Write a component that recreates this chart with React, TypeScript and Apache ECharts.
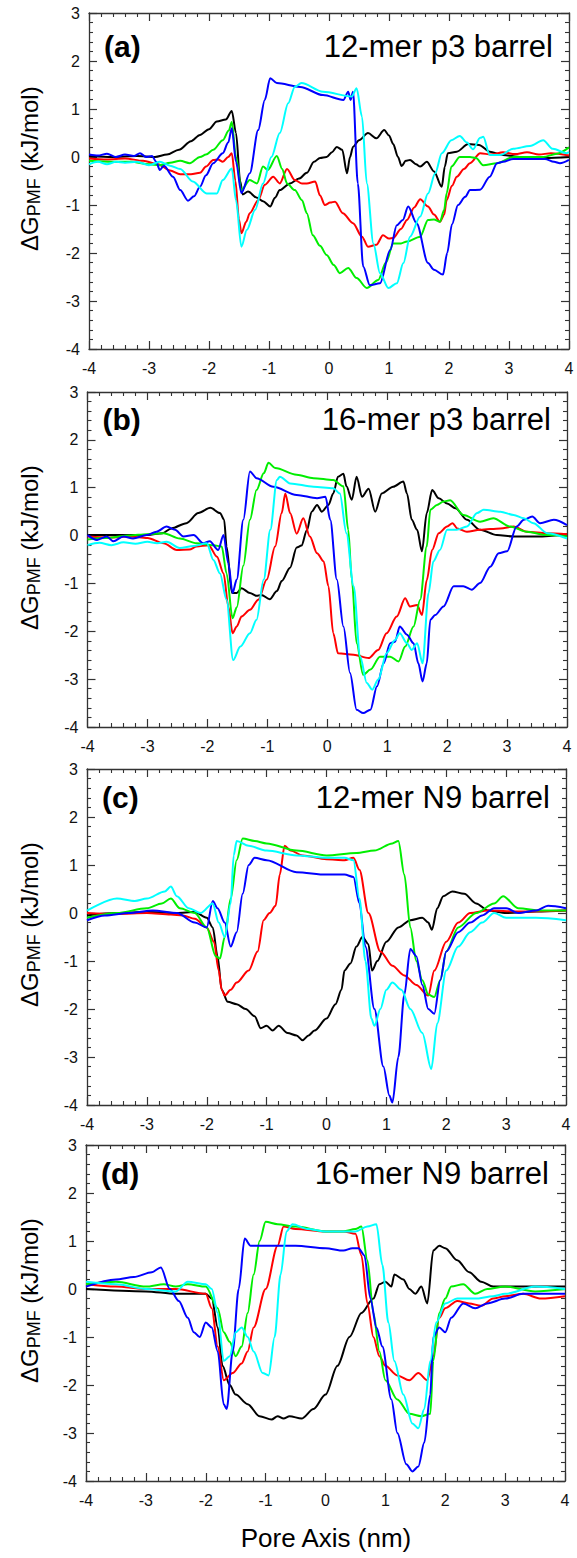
import React, { useEffect, useRef } from "react";
import * as echarts from "echarts";

type P = [number, number][];

const xTicks = [-4, -3, -2, -1, 0, 1, 2, 3, 4];
const yRange = [-4, 3];
const panelTags = ["(a)", "(b)", "(c)", "(d)"];
const panelTitles = ["12-mer p3 barrel", "16-mer p3 barrel", "12-mer N9 barrel", "16-mer N9 barrel"];
const seriesNames = ["black", "red", "green", "blue", "cyan"];
const seriesColors = ["#000000", "#ff0000", "#00ee00", "#0000ff", "#00ffff"];

// ---- panel (a): 12-mer p3 barrel
const aBlack: P = [[-4,0.02],[-3.6,0.0],[-3.2,0.02],[-2.9,0.0],[-2.7,0.05],[-2.5,0.15],[-2.3,0.33],[-2.15,0.46],[-2.0,0.58],[-1.87,0.74],[-1.72,0.78],[-1.62,0.96],[-1.55,0.5],[-1.48,-0.5],[-1.44,-0.78],[-1.35,-0.72],[-1.2,-0.85],[-1.1,-0.92],[-0.98,-1.03],[-0.9,-0.85],[-0.82,-0.69],[-0.65,-0.55],[-0.5,-0.45],[-0.37,-0.33],[-0.25,-0.1],[-0.15,-0.02],[-0.04,0.0],[0.05,0.1],[0.13,0.21],[0.22,0.15],[0.3,-0.34],[0.35,0.0],[0.4,0.21],[0.5,0.35],[0.65,0.5],[0.79,0.39],[0.92,0.56],[1.0,0.45],[1.07,0.27],[1.15,0.0],[1.21,-0.19],[1.28,-0.08],[1.35,-0.06],[1.45,-0.15],[1.52,-0.2],[1.63,-0.1],[1.75,-0.3],[1.88,-0.62],[1.93,-0.2],[1.98,0.08],[2.13,0.11],[2.32,0.27],[2.5,0.25],[2.68,0.11],[2.9,0.04],[3.2,0.0],[3.6,-0.02],[4,0.0]];
const aRed: P = [[-4,-0.03],[-3.7,-0.05],[-3.4,-0.03],[-3.1,-0.08],[-2.85,-0.15],[-2.65,-0.28],[-2.48,-0.36],[-2.3,-0.36],[-2.15,-0.33],[-2.05,-0.2],[-1.93,-0.06],[-1.85,-0.05],[-1.77,-0.1],[-1.68,0.0],[-1.62,0.08],[-1.56,-0.5],[-1.5,-1.3],[-1.46,-1.59],[-1.38,-1.35],[-1.32,-1.17],[-1.18,-0.9],[-1.07,-0.58],[-0.93,-0.41],[-0.82,-0.55],[-0.7,-0.25],[-0.57,-0.48],[-0.45,-0.55],[-0.37,-0.55],[-0.23,-0.51],[-0.15,-0.8],[-0.07,-1.0],[0.02,-0.95],[0.1,-0.93],[0.23,-1.17],[0.4,-1.38],[0.55,-1.66],[0.65,-1.87],[0.79,-1.83],[0.9,-1.63],[1.0,-1.7],[1.07,-1.69],[1.2,-1.5],[1.3,-1.31],[1.42,-1.05],[1.52,-0.88],[1.65,-1.03],[1.75,-1.2],[1.85,-1.35],[1.92,-1.2],[1.96,-0.9],[2.05,-0.6],[2.13,-0.41],[2.25,-0.25],[2.35,-0.13],[2.52,0.08],[2.7,0.05],[2.9,0.1],[3.1,0.06],[3.3,0.1],[3.5,0.05],[3.7,0.08],[4,0.03]];
const aGreen: P = [[-4,-0.08],[-3.6,-0.1],[-3.3,-0.1],[-3.0,-0.15],[-2.82,-0.17],[-2.65,-0.12],[-2.48,-0.08],[-2.32,-0.13],[-2.15,0.0],[-2.05,0.05],[-1.93,0.15],[-1.77,0.35],[-1.67,0.55],[-1.62,0.73],[-1.55,0.0],[-1.46,-0.69],[-1.32,-0.48],[-1.2,-0.55],[-1.1,-0.2],[-1.02,-0.27],[-0.87,0.02],[-0.78,-0.25],[-0.7,-0.55],[-0.57,-0.69],[-0.45,-0.9],[-0.37,-1.17],[-0.27,-1.63],[-0.15,-1.85],[-0.04,-2.04],[0.08,-2.25],[0.18,-2.42],[0.32,-2.31],[0.46,-2.52],[0.63,-2.73],[0.82,-2.56],[0.95,-2.2],[1.07,-1.8],[1.2,-1.8],[1.3,-1.76],[1.52,-1.66],[1.65,-1.31],[1.75,-1.3],[1.85,-1.35],[1.92,-1.1],[1.96,-0.76],[2.04,-0.2],[2.18,0.0],[2.35,0.0],[2.45,-0.02],[2.57,-0.17],[2.8,-0.13],[3.07,0.0],[3.3,0.0],[3.57,0.0],[3.8,0.07],[4,0.2]];
const aBlue: P = [[-4,0.05],[-3.85,0.03],[-3.7,0.07],[-3.55,0.0],[-3.4,0.05],[-3.25,0.02],[-3.15,0.08],[-3.05,0.0],[-2.95,0.02],[-2.88,-0.1],[-2.82,-0.27],[-2.75,-0.18],[-2.6,-0.41],[-2.48,-0.69],[-2.35,-0.91],[-2.25,-0.82],[-2.15,-0.62],[-2.05,-0.38],[-1.93,-0.13],[-1.77,0.08],[-1.68,0.3],[-1.62,0.6],[-1.55,-0.1],[-1.46,-0.75],[-1.32,-0.34],[-1.18,0.56],[-1.07,1.19],[-0.98,1.64],[-0.87,1.54],[-0.48,1.46],[-0.1,1.29],[0.24,1.19],[0.32,1.36],[0.36,1.19],[0.4,1.36],[0.48,-0.55],[0.57,-2.28],[0.68,-2.67],[0.85,-2.63],[1.02,-1.94],[1.13,-1.42],[1.23,-1.31],[1.32,-1.03],[1.46,-1.38],[1.65,-2.21],[1.75,-2.35],[1.9,-2.45],[1.97,-2.0],[2.05,-1.4],[2.15,-1.0],[2.27,-0.83],[2.35,-0.69],[2.52,-0.68],[2.68,-0.41],[2.8,-0.13],[2.9,-0.1],[3.07,-0.04],[3.4,-0.04],[3.6,-0.04],[3.75,-0.1],[3.85,-0.13],[4,-0.06]];
const aCyan: P = [[-4,-0.15],[-3.85,-0.1],[-3.7,-0.15],[-3.55,-0.1],[-3.4,-0.12],[-3.2,-0.1],[-3.0,-0.17],[-2.82,-0.1],[-2.65,-0.18],[-2.48,-0.25],[-2.27,-0.51],[-2.04,-0.76],[-1.87,-0.76],[-1.77,-0.48],[-1.62,-0.24],[-1.55,-0.9],[-1.46,-1.87],[-1.37,-1.52],[-1.23,-1.1],[-1.1,-0.55],[-0.96,0.0],[-0.82,0.5],[-0.68,1.12],[-0.57,1.46],[-0.46,1.54],[-0.1,1.36],[0.38,1.26],[0.46,1.43],[0.55,0.84],[0.63,-0.55],[0.74,-1.8],[0.85,-2.42],[0.99,-2.73],[1.13,-2.63],[1.24,-2.21],[1.35,-1.66],[1.52,-1.24],[1.65,-0.76],[1.77,-0.34],[1.88,0.08],[2.04,0.35],[2.18,0.44],[2.3,0.3],[2.4,0.16],[2.52,0.4],[2.57,0.42],[2.68,0.04],[2.85,0.04],[3.07,0.17],[3.35,0.23],[3.57,0.35],[3.73,0.17],[3.96,0.08],[4,0.1]];

// ---- panel (b): 16-mer p3 barrel
const bBlack: P = [[-4,0.01],[-3.5,0.01],[-3.0,0.01],[-2.75,0.05],[-2.6,0.15],[-2.35,0.26],[-2.15,0.47],[-1.95,0.58],[-1.79,0.47],[-1.72,0.33],[-1.68,-0.23],[-1.59,-1.2],[-1.51,-1.2],[-1.43,-1.1],[-1.29,-1.2],[-1.18,-1.26],[-1.1,-1.24],[-0.96,-1.33],[-0.84,-1.16],[-0.76,-0.95],[-0.62,-0.67],[-0.51,-0.25],[-0.43,-0.21],[-0.34,0.11],[-0.26,0.5],[-0.17,0.64],[-0.09,0.5],[0.02,0.64],[0.1,0.88],[0.18,1.23],[0.27,1.29],[0.32,1.03],[0.41,0.75],[0.49,1.23],[0.58,0.81],[0.69,0.98],[0.8,0.5],[0.91,0.88],[1.1,1.02],[1.27,1.13],[1.33,0.88],[1.41,0.33],[1.5,0.12],[1.58,-0.33],[1.66,0.47],[1.75,0.95],[1.86,0.78],[2.0,0.67],[2.14,0.57],[2.33,0.33],[2.55,0.12],[2.83,0.01],[3.11,-0.02],[3.5,-0.02],[4,0.03]];
const bRed: P = [[-4,-0.02],[-3.6,-0.04],[-3.3,-0.02],[-3.0,-0.05],[-2.73,-0.16],[-2.51,-0.3],[-2.3,-0.29],[-2.18,-0.23],[-1.98,-0.2],[-1.84,-0.44],[-1.73,-0.79],[-1.65,-1.48],[-1.58,-2.04],[-1.51,-1.9],[-1.43,-1.69],[-1.29,-1.55],[-1.15,-1.34],[-1.01,-0.92],[-0.87,-0.23],[-0.76,0.47],[-0.7,0.88],[-0.62,0.47],[-0.51,0.04],[-0.4,0.36],[-0.29,-0.02],[-0.17,-0.37],[-0.06,-0.54],[0.02,-1.06],[0.1,-2.04],[0.18,-2.46],[0.44,-2.49],[0.69,-2.56],[0.85,-2.39],[0.99,-2.04],[1.16,-1.69],[1.3,-1.31],[1.38,-1.48],[1.5,-1.45],[1.58,-1.66],[1.66,-0.93],[1.75,-0.3],[1.86,0.05],[2.0,0.19],[2.09,0.26],[2.17,0.15],[2.33,0.08],[2.55,0.12],[2.89,0.15],[3.11,0.19],[3.33,0.08],[3.67,0.05],[4,0.03]];
const bGreen: P = [[-4,-0.08],[-3.7,-0.05],[-3.3,0.0],[-3.01,0.03],[-2.73,0.05],[-2.46,-0.06],[-2.18,-0.16],[-1.9,-0.2],[-1.76,-0.23],[-1.68,-0.79],[-1.58,-1.73],[-1.51,-1.5],[-1.4,-0.63],[-1.29,0.33],[-1.18,0.95],[-1.06,1.3],[-0.98,1.52],[-0.87,1.41],[-0.51,1.27],[-0.23,1.2],[0.1,1.16],[0.27,1.03],[0.35,0.12],[0.41,-0.92],[0.49,-2.25],[0.6,-2.91],[0.72,-2.8],[0.88,-2.53],[1.05,-2.53],[1.19,-2.63],[1.3,-2.32],[1.44,-1.9],[1.55,-1.34],[1.66,-0.23],[1.72,0.54],[1.83,0.64],[1.94,0.71],[2.05,0.74],[2.27,0.43],[2.55,0.29],[2.77,0.36],[3.05,0.19],[3.33,0.08],[3.67,0.01],[4,-0.02]];
const bBlue: P = [[-4,0.01],[-3.84,-0.09],[-3.68,-0.02],[-3.57,-0.12],[-3.4,-0.02],[-3.24,-0.06],[-3.01,0.01],[-2.85,0.08],[-2.68,0.19],[-2.54,0.12],[-2.4,-0.02],[-2.23,0.01],[-2.07,-0.16],[-1.96,-0.12],[-1.82,-0.3],[-1.73,0.01],[-1.65,-0.58],[-1.58,-1.2],[-1.51,-0.92],[-1.4,0.33],[-1.29,1.34],[-1.18,1.2],[-0.9,1.02],[-0.51,0.85],[-0.17,0.78],[-0.03,0.81],[0.05,0.33],[0.16,-0.92],[0.27,-1.9],[0.38,-2.87],[0.49,-3.64],[0.6,-3.71],[0.72,-3.64],[0.83,-3.15],[0.94,-2.67],[1.05,-2.25],[1.13,-2.22],[1.21,-1.9],[1.33,-2.07],[1.44,-2.25],[1.52,-2.67],[1.59,-3.05],[1.66,-2.67],[1.72,-1.76],[1.8,-1.66],[1.94,-1.48],[2.11,-1.06],[2.27,-1.06],[2.41,-1.13],[2.55,-0.99],[2.72,-0.65],[2.86,-0.37],[3.0,-0.33],[3.16,0.19],[3.28,0.33],[3.42,0.4],[3.55,0.26],[3.78,0.33],[4,0.22]];
const bCyan: P = [[-4,-0.2],[-3.8,-0.15],[-3.6,-0.2],[-3.4,-0.14],[-3.2,-0.17],[-3.0,-0.13],[-2.84,-0.16],[-2.68,-0.13],[-2.46,-0.26],[-2.23,-0.22],[-2.01,-0.16],[-1.9,-0.51],[-1.79,-0.79],[-1.68,-1.34],[-1.57,-2.6],[-1.45,-2.32],[-1.29,-2.04],[-1.18,-1.76],[-1.06,-0.92],[-0.95,0.12],[-0.84,1.16],[-0.79,1.23],[-0.62,1.09],[-0.23,1.02],[0.1,0.99],[0.21,0.88],[0.32,0.05],[0.44,-1.06],[0.55,-2.53],[0.66,-3.08],[0.75,-3.22],[0.85,-3.01],[0.99,-2.46],[1.13,-2.18],[1.21,-2.04],[1.33,-2.25],[1.41,-2.39],[1.5,-2.25],[1.59,-2.67],[1.69,-1.2],[1.77,-0.54],[1.88,-0.3],[2.0,0.12],[2.16,0.12],[2.33,0.19],[2.5,0.47],[2.61,0.54],[2.89,0.5],[3.11,0.43],[3.28,0.36],[3.44,0.26],[3.67,0.05],[4,-0.06]];

// ---- panel (c): 12-mer N9 barrel
const cBlack: P = [[-4,-0.05],[-3.5,0.0],[-3.0,0.02],[-2.5,0.0],[-2.2,0.02],[-2.0,-0.1],[-1.9,-0.3],[-1.82,-0.9],[-1.75,-1.6],[-1.65,-1.85],[-1.5,-1.9],[-1.35,-2.0],[-1.2,-2.15],[-1.1,-2.4],[-1.0,-2.35],[-0.9,-2.45],[-0.8,-2.35],[-0.65,-2.5],[-0.5,-2.55],[-0.4,-2.65],[-0.3,-2.55],[-0.2,-2.45],[0,-2.2],[0.15,-1.9],[0.25,-1.6],[0.3,-1.2],[0.4,-1.05],[0.5,-0.7],[0.6,-0.5],[0.7,-0.65],[0.76,-1.2],[0.85,-1.0],[1.0,-0.6],[1.2,-0.3],[1.4,-0.15],[1.6,-0.1],[1.7,-0.2],[1.76,-0.35],[1.85,0.1],[1.95,0.35],[2.1,0.45],[2.3,0.4],[2.5,0.2],[2.7,0.05],[3.0,0.0],[3.5,0.03],[4,0.05]];
const cRed: P = [[-4,0.0],[-3.5,-0.02],[-3.0,0.0],[-2.6,-0.03],[-2.4,-0.05],[-2.2,-0.12],[-2.0,-0.3],[-1.88,-0.6],[-1.8,-1.2],[-1.75,-1.6],[-1.7,-1.72],[-1.6,-1.6],[-1.5,-1.45],[-1.3,-1.2],[-1.15,-0.8],[-1.05,-0.15],[-0.95,0.0],[-0.85,0.15],[-0.78,0.8],[-0.7,1.4],[-0.6,1.3],[-0.4,1.2],[0,1.12],[0.3,1.1],[0.45,1.15],[0.55,0.9],[0.7,0.0],[0.9,-0.8],[1.1,-1.1],[1.3,-1.3],[1.5,-1.5],[1.7,-1.72],[1.8,-1.2],[2.0,-0.6],[2.2,-0.2],[2.4,0.0],[2.7,0.05],[3.2,0.03],[4,0.05]];
const cGreen: P = [[-4,-0.1],[-3.5,0.0],[-3.0,0.1],[-2.75,0.2],[-2.6,0.3],[-2.45,0.1],[-2.2,0.0],[-2.0,-0.3],[-1.85,-0.9],[-1.78,-0.95],[-1.7,-0.5],[-1.6,0.3],[-1.5,1.1],[-1.4,1.55],[-1.2,1.5],[-1.0,1.45],[-0.5,1.3],[0,1.2],[0.5,1.25],[0.8,1.3],[1.1,1.45],[1.2,1.5],[1.3,0.8],[1.4,-0.3],[1.5,-1.0],[1.6,-1.4],[1.7,-1.7],[1.8,-1.75],[1.9,-1.4],[2.0,-0.8],[2.2,-0.3],[2.5,0.0],[2.8,0.2],[2.95,0.35],[3.2,0.1],[3.6,0.05],[4,0.05]];
const cBlue: P = [[-4,-0.15],[-3.7,-0.05],[-3.3,0.0],[-2.9,0.05],[-2.5,0.0],[-2.2,-0.2],[-2.0,-0.3],[-1.9,0.25],[-1.82,0.1],[-1.7,-0.2],[-1.6,-0.7],[-1.5,-0.4],[-1.4,0.4],[-1.3,1.0],[-1.2,1.15],[-1.0,1.1],[-0.5,0.85],[0,0.8],[0.3,0.8],[0.45,0.75],[0.55,0.2],[0.65,-0.7],[0.8,-2.0],[0.95,-3.2],[1.05,-3.8],[1.1,-3.95],[1.2,-3.0],[1.3,-1.7],[1.4,-0.75],[1.5,-0.9],[1.6,-1.5],[1.7,-2.0],[1.8,-2.1],[1.9,-1.4],[2.0,-0.8],[2.2,-0.4],[2.4,-0.2],[2.6,-0.05],[2.8,0.1],[3.0,0.1],[3.2,0.0],[3.5,0.05],[3.7,0.15],[4,0.1]];
const cCyan: P = [[-4,0.05],[-3.5,0.3],[-3.2,0.25],[-3.0,0.3],[-2.7,0.45],[-2.6,0.55],[-2.5,0.35],[-2.3,0.1],[-2.1,0.0],[-1.9,0.2],[-1.8,-0.2],[-1.7,-0.5],[-1.6,0.2],[-1.55,1.2],[-1.5,1.5],[-1.3,1.4],[-1.0,1.3],[-0.5,1.2],[0,1.15],[0.3,1.15],[0.45,1.1],[0.55,0.3],[0.65,-1.0],[0.75,-2.2],[0.8,-2.35],[0.9,-2.0],[1.0,-1.6],[1.1,-1.45],[1.25,-1.6],[1.4,-2.0],[1.6,-2.5],[1.75,-3.25],[1.85,-2.3],[2.0,-1.2],[2.2,-0.7],[2.4,-0.4],[2.6,-0.2],[2.8,0.0],[3.0,-0.1],[3.5,-0.1],[4,-0.15]];

// ---- panel (d): 16-mer N9 barrel
const dBlack: P = [[-4,0.0],[-3,-0.05],[-2.5,-0.1],[-2.0,-0.1],[-1.9,-0.2],[-1.8,-0.8],[-1.72,-1.6],[-1.6,-2.0],[-1.5,-2.2],[-1.3,-2.4],[-1.1,-2.65],[-0.9,-2.72],[-0.8,-2.65],[-0.7,-2.7],[-0.6,-2.65],[-0.4,-2.7],[-0.2,-2.5],[0,-2.2],[0.2,-1.6],[0.4,-1.0],[0.6,-0.5],[0.8,-0.2],[0.9,0.1],[1.0,0.15],[1.1,0.05],[1.15,0.3],[1.3,0.2],[1.4,0.0],[1.5,-0.1],[1.6,0.05],[1.7,-0.3],[1.8,0.8],[1.9,0.9],[2.0,0.85],[2.2,0.6],[2.4,0.35],[2.6,0.15],[2.8,0.05],[3.0,0.05],[4,0.05]];
const dRed: P = [[-4,0.1],[-3.5,0.05],[-3,0.0],[-2.5,0.0],[-2.0,-0.1],[-1.9,-0.4],[-1.8,-1.2],[-1.7,-1.9],[-1.55,-1.75],[-1.4,-1.55],[-1.3,-1.3],[-1.2,-0.8],[-1.0,0.0],[-0.8,0.9],[-0.7,1.3],[-0.5,1.25],[0,1.2],[0.3,1.2],[0.5,1.15],[0.6,0.7],[0.7,-0.3],[0.8,-1.0],[0.9,-1.4],[1.0,-1.6],[1.2,-1.8],[1.4,-1.9],[1.55,-1.75],[1.7,-1.9],[1.8,-1.4],[1.9,-0.6],[2.0,-0.4],[2.2,-0.25],[2.4,-0.3],[2.6,-0.35],[2.8,-0.2],[3.0,-0.15],[3.3,-0.1],[3.6,-0.2],[4,-0.15]];
const dGreen: P = [[-4,0.1],[-3.5,0.15],[-3,0.05],[-2.7,0.1],[-2.5,0.05],[-2.3,0.1],[-2.0,0.05],[-1.8,-0.4],[-1.7,-0.9],[-1.6,-1.1],[-1.5,-1.4],[-1.4,-1.2],[-1.3,-0.5],[-1.2,0.3],[-1.1,1.0],[-1.0,1.4],[-0.8,1.35],[-0.5,1.3],[0,1.2],[0.3,1.2],[0.5,1.25],[0.6,1.3],[0.7,0.6],[0.8,-0.5],[0.9,-1.3],[1.0,-1.9],[1.2,-2.3],[1.4,-2.6],[1.6,-2.65],[1.75,-2.6],[1.8,-1.5],[1.9,-0.5],[2.0,-0.2],[2.1,0.05],[2.3,0.1],[2.5,-0.1],[2.7,0.0],[3.0,0.05],[3.5,-0.05],[4,0.0]];
const dBlue: P = [[-4,0.05],[-3.5,0.2],[-3.2,0.25],[-2.9,0.35],[-2.75,0.45],[-2.6,0.0],[-2.45,-0.25],[-2.3,-0.6],[-2.2,-0.9],[-2.1,-1.0],[-2.0,-0.7],[-1.9,-0.8],[-1.8,-1.3],[-1.7,-2.4],[-1.65,-2.5],[-1.55,-1.3],[-1.45,0.0],[-1.35,1.05],[-1.25,0.9],[-1.0,0.9],[-0.5,0.9],[0,0.85],[0.3,0.8],[0.45,0.85],[0.55,0.85],[0.65,0.7],[0.75,-0.2],[0.85,-0.8],[0.95,-1.2],[1.1,-2.3],[1.2,-3.0],[1.35,-3.65],[1.45,-3.8],[1.55,-3.7],[1.65,-3.2],[1.75,-2.2],[1.8,-1.0],[1.9,-0.8],[2.0,-0.9],[2.1,-0.6],[2.3,-0.3],[2.5,-0.4],[2.7,-0.3],[3.0,-0.2],[3.3,-0.1],[3.6,-0.1],[4,-0.1]];
const dCyan: P = [[-4,0.15],[-3.5,0.1],[-3,0.0],[-2.5,-0.05],[-2.3,0.15],[-2.0,0.1],[-1.9,0.0],[-1.8,-0.5],[-1.7,-1.5],[-1.6,-1.4],[-1.5,-0.9],[-1.4,-0.8],[-1.3,-1.0],[-1.2,-1.3],[-1.05,-1.75],[-0.95,-1.8],[-0.85,-1.0],[-0.75,0.3],[-0.65,1.2],[-0.55,1.35],[-0.3,1.25],[0,1.2],[0.5,1.2],[0.7,1.3],[0.85,1.35],[0.95,0.5],[1.05,-0.7],[1.15,-1.5],[1.3,-2.2],[1.45,-2.8],[1.55,-2.9],[1.65,-2.5],[1.75,-1.5],[1.85,-0.7],[2.0,-0.3],[2.2,-0.2],[2.5,-0.2],[2.8,-0.15],[3.0,-0.1],[3.5,0.05],[4,0.0]];

const panelData: P[][] = [
  [aBlack, aRed, aGreen, aBlue, aCyan],
  [bBlack, bRed, bGreen, bBlue, bCyan],
  [cBlack, cRed, cGreen, cBlue, cCyan],
  [dBlack, dRed, dGreen, dBlue, dCyan],
];

const FONT = "'Liberation Sans', Arial, Helvetica, sans-serif";
const W = 577;
const H = 1558;

const grids = [
  { left: 89, top: 13, width: 480, height: 336, tagDy: 33 },
  { left: 87.5, top: 392, width: 479.5, height: 335, tagDy: 27 },
  { left: 87, top: 769, width: 479, height: 336, tagDy: 28 },
  { left: 86, top: 1145, width: 479, height: 336, tagDy: 28 },
];

function buildOption() {
  const grid: any[] = [];
  const xAxis: any[] = [];
  const yAxis: any[] = [];
  const series: any[] = [];
  const graphic: any[] = [];
  const axisLine = { show: true, onZero: false, lineStyle: { color: "#333", width: 1.3 } };
  const axisTick = { show: true, inside: true, length: 8, lineStyle: { color: "#333", width: 1.2 } };
  const minorTick = { show: true, splitNumber: 5, length: 4, lineStyle: { color: "#333", width: 1.1 } };

  grids.forEach((g, i) => {
    grid.push({ left: g.left, top: g.top, width: g.width, height: g.height, containLabel: false });
    const xBase = {
      gridIndex: i, type: "value", min: xTicks[0], max: xTicks[xTicks.length - 1], interval: 1,
      axisLine, axisTick, minorTick, splitLine: { show: false }, minorSplitLine: { show: false },
    };
    xAxis.push({ ...xBase, position: "bottom",
      axisLabel: { show: true, margin: 11, fontSize: 16, color: "#111", fontFamily: FONT } });
    xAxis.push({ ...xBase, position: "top", axisLabel: { show: false } });
    const yBase = {
      gridIndex: i, type: "value", min: yRange[0], max: yRange[1], interval: 1,
      axisLine, axisTick, minorTick, splitLine: { show: false }, minorSplitLine: { show: false },
    };
    yAxis.push({ ...yBase, position: "left",
      axisLabel: { show: true, margin: 9, fontSize: 16, color: "#111", fontFamily: FONT } });
    yAxis.push({ ...yBase, position: "right", axisLabel: { show: false } });

    panelData[i].forEach((d, k) => {
      series.push({
        type: "line", name: `${seriesNames[k]}-${i}`, xAxisIndex: 2 * i, yAxisIndex: 2 * i,
        data: d, showSymbol: false, symbol: "none", smooth: 0.3, smoothMonotone: "x",
        lineStyle: { color: seriesColors[k], width: 2 }, z: 2 + k,
      });
    });

    // panel tag and title
    const cy = g.top + g.tagDy;
    graphic.push({ type: "text", x: g.left + 15, y: cy, z: 100,
      style: { text: panelTags[i], fontSize: 30, fontWeight: "bold", fontFamily: FONT, fill: "#000",
        textAlign: "left", textVerticalAlign: "middle", align: "left", verticalAlign: "middle" } });
    graphic.push({ type: "text", x: g.left + g.width - 16, y: cy, z: 100,
      style: { text: panelTitles[i], fontSize: 31, fontFamily: FONT, fill: "#000",
        textAlign: "right", textVerticalAlign: "middle", align: "right", verticalAlign: "middle" } });

    // y-axis title: ΔG_PMF (kJ/mol), rotated
    const yb = g.top + 238;
    const mainSize = 24;
    const subSize = 18;
    const w1 = 1.445 * mainSize;
    const w2 = 2.111 * subSize;
    graphic.push({ type: "text", x: 29, y: yb, rotation: Math.PI / 2, z: 100,
      style: { text: "ΔG", fontSize: mainSize, fontFamily: FONT, fill: "#000",
        textAlign: "left", textVerticalAlign: "middle", align: "left", verticalAlign: "middle" } });
    graphic.push({ type: "text", x: 34, y: yb - w1, rotation: Math.PI / 2, z: 100,
      style: { text: "PMF", fontSize: subSize, fontFamily: FONT, fill: "#000",
        textAlign: "left", textVerticalAlign: "middle", align: "left", verticalAlign: "middle" } });
    graphic.push({ type: "text", x: 29, y: yb - w1 - w2, rotation: Math.PI / 2, z: 100,
      style: { text: " (kJ/mol)", fontSize: mainSize, fontFamily: FONT, fill: "#000",
        textAlign: "left", textVerticalAlign: "middle", align: "left", verticalAlign: "middle" } });
  });

  graphic.push({ type: "text", x: 326, y: 1538, z: 100,
    style: { text: "Pore Axis (nm)", fontSize: 26, fontFamily: FONT, fill: "#000",
      textAlign: "center", textVerticalAlign: "middle", align: "center", verticalAlign: "middle" } });

  return { animation: false, backgroundColor: "#fff", grid, xAxis, yAxis, series, graphic };
}

export default function App() {
  const ref = useRef<HTMLDivElement>(null);
  useEffect(() => {
    document.body.style.margin = "0";
    if (!ref.current) return;
    const chart = echarts.init(ref.current, undefined, { renderer: "svg", width: W, height: H });
    chart.setOption(buildOption());
    return () => chart.dispose();
  }, []);
  return <div ref={ref} style={{ position: "absolute", left: 0, top: 0, width: W, height: H }} />;
}
